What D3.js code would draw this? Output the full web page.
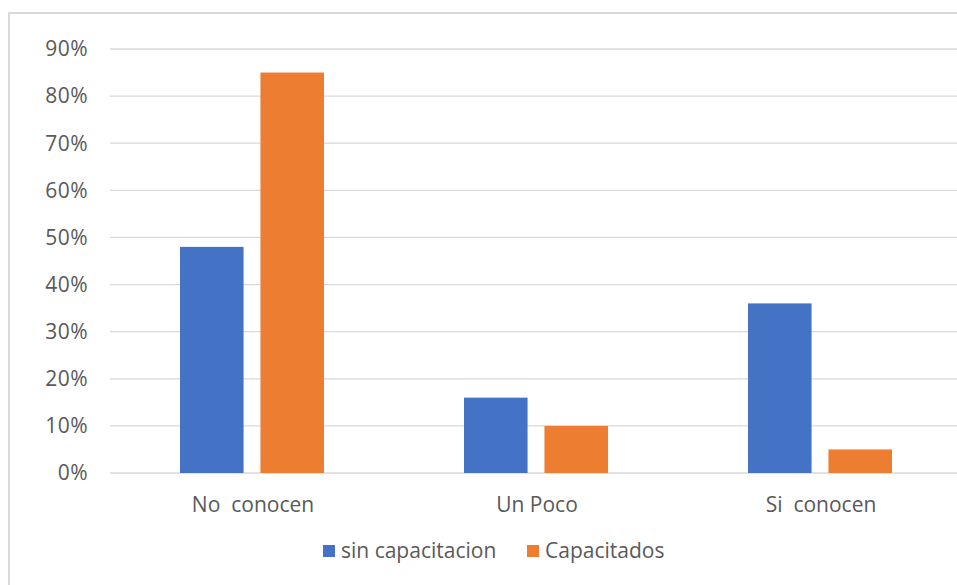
<!DOCTYPE html>
<html>
<head>
<meta charset="utf-8">
<script src="https://cdn.jsdelivr.net/npm/d3@7"></script>
<style>
	body { margin: 0; background: #fff; overflow: hidden; }
	text { font-family: "Open Sans", "DejaVu Sans", sans-serif; fill: #595959; white-space: pre; }
</style>
</head>
<body>
<script>
// data
var categories = ['No  conocen', 'Un Poco', 'Si  conocen'];
var seriesNames = ['sin capacitacion', 'Capacitados'];
var sinCapacitacion = [0.48, 0.16, 0.36];
var capacitados = [0.85, 0.10, 0.05];
var yTicks = [0, 0.1, 0.2, 0.3, 0.4, 0.5, 0.6, 0.7, 0.8, 0.9];
var colors = ['#4472C4', '#ED7D31'];

var width = 957, height = 585;
var margin = { top: 49, right: -5, bottom: 112, left: 110 };
var w = width - margin.left - margin.right;
var h = height - margin.top - margin.bottom;

var svg = d3.select('body').append('svg')
	.attr('width', width)
	.attr('height', height);

// chart border
svg.append('rect')
	.attr('x', 9).attr('y', 13)
	.attr('width', 1000).attr('height', 1000)
	.attr('fill', 'none')
	.attr('stroke', '#d9d9d9')
	.attr('stroke-width', 2);

var g = svg.append('g')
	.attr('transform', 'translate(' + margin.left + ',' + margin.top + ')');

var x = d3.scaleBand().domain(categories).range([0, w]);
var x1 = d3.scaleBand().domain(seriesNames).range([70, x.bandwidth() - 70]).paddingInner(0.21);
var y = d3.scaleLinear().domain([0, 0.9]).range([h, 0]);

// gridlines
g.selectAll('.grid')
	.data(yTicks)
	.enter().append('line')
	.attr('x1', 0).attr('x2', w)
	.attr('y1', function (d) { return y(d); })
	.attr('y2', function (d) { return y(d); })
	.attr('stroke', '#d9d9d9')
	.attr('stroke-width', 1.3);

// y labels
g.selectAll('.ylab')
	.data(yTicks)
	.enter().append('text')
	.attr('x', -22)
	.attr('y', function (d) { return y(d); })
	.attr('dy', '0.35em')
	.attr('text-anchor', 'end')
	.style('font-size', '21px')
	.style('letter-spacing', '0.5px')
	.text(d3.format('.0%'));

// bars
var series = [sinCapacitacion, capacitados];
series.forEach(function (vals, si) {
	g.selectAll('.bar' + si)
		.data(vals)
		.enter().append('rect')
		.attr('x', function (d, i) { return x(categories[i]) + x1(seriesNames[si]); })
		.attr('y', function (d) { return y(d); })
		.attr('width', x1.bandwidth())
		.attr('height', function (d) { return h - y(d); })
		.attr('fill', colors[si]);
});

// x labels
g.selectAll('.xlab')
	.data(categories)
	.enter().append('text')
	.attr('x', function (d) { return x(d) + x.bandwidth() / 2 + 1; })
	.attr('y', h + 32)
	.attr('dy', '0.35em')
	.attr('text-anchor', 'middle')
	.style('font-size', '21px')
	.text(function (d) { return d; });

// legend
var legendX = [323, 527];
var lg = svg.selectAll('.legend')
	.data(seriesNames)
	.enter().append('g')
	.attr('transform', function (d, i) { return 'translate(' + legendX[i] + ',551)'; });
lg.append('rect')
	.attr('x', 0).attr('y', -6)
	.attr('width', 12).attr('height', 12)
	.attr('fill', function (d, i) { return colors[i]; });
lg.append('text')
	.attr('x', 18)
	.attr('dy', '0.35em')
	.style('font-size', '21px')
	.text(function (d) { return d; });
</script>
</body>
</html>
